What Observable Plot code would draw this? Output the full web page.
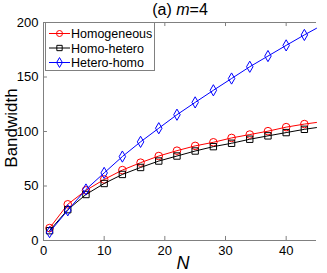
<!DOCTYPE html>
<html><head><meta charset="utf-8">
<script src="https://cdn.jsdelivr.net/npm/d3@7"></script>
<script src="https://cdn.jsdelivr.net/npm/@observablehq/plot@0.6"></script>
<style>body{margin:0;background:#fff;font-family:"Liberation Sans",Arial,sans-serif}</style>
</head><body><div id="chart"></div>
<script>
const N = [1,4,7,10,13,16,19,22,25,28,31,34,37,40,43,45];
const homogeneous = [11.4,33.2,46,56,64.6,71.4,77.5,82.4,86.8,90.1,94.1,97.2,100.3,104,106.8,108.3];
const homoHetero = [9,28.3,42.2,52.3,60.6,67,72.9,77.5,82.1,86.1,89.2,92.9,96,99,102,103.6];
const heteroHomo = [7.7,27.7,46.8,62,77,90.5,103,115.4,126.7,137.8,148.6,159.4,169.2,179,188.6,194.7];
const seriesNames = ["Homogeneous","Homo-hetero","Hetero-homo"];
const seriesColors = ["#ff0000","#000000","#0000ff"];
const seriesSymbols = ["circle","square","diamond"];
const xTicks = [0,10,20,30,40];
const yTicks = [0,50,100,150,200];

const allSeries = [homogeneous, homoHetero, heteroHomo];
const rows = [];
allSeries.forEach((vals, s) => vals.forEach((v, i) => rows.push({series: seriesNames[s], N: N[i], v})));
const markerRows = rows.filter(d => (d.N - 1) % 3 === 0);
const rMap = {circle: 3.8, square: 3.6, diamond: 3.4};

const gray = "#808080";
const marks = [
  Plot.ruleY([0], {stroke: gray}),
  Plot.ruleY([200], {stroke: gray}),
  Plot.ruleX([0], {stroke: gray}),
  Plot.ruleX(xTicks.filter(t => t > 0), {y1: 0, y2: 3.7, stroke: gray}),
  Plot.ruleX(xTicks.filter(t => t > 0), {y1: 200, y2: 196.3, stroke: gray}),
  Plot.ruleY(yTicks.filter(t => t > 0 && t < 200), {x1: 0, x2: 0.65, stroke: gray}),
  Plot.axisX(xTicks, {tickSize: 0, tickPadding: 5, fontSize: 13, label: null}),
  Plot.axisY(yTicks, {tickSize: 0, tickPadding: 5, fontSize: 13, label: null}),
];
seriesNames.forEach((name, s) => {
  marks.push(Plot.line(rows.filter(d => d.series === name), {x: "N", y: "v", stroke: seriesColors[s], strokeWidth: 1}));
  marks.push(Plot.dot(markerRows.filter(d => d.series === name), {x: "N", y: "v", stroke: seriesColors[s], fill: "none", symbol: () => seriesSymbols[s], r: rMap[seriesSymbols[s]], strokeWidth: 1}));
});

const plot = Plot.plot({
  width: 327, height: 273,
  marginLeft: 43, marginRight: 11, marginTop: 22, marginBottom: 33,
  style: {fontFamily: "Liberation Sans, Arial, sans-serif", color: "#000", background: "#fff"},
  x: {domain: [0,45]},
  y: {domain: [0,200]},
  marks
});
document.getElementById("chart").appendChild(plot);

const svg = d3.select(plot);
// title
const t = svg.append("text").attr("x", 180).attr("y", 15).attr("text-anchor", "middle")
  .attr("font-size", 16).attr("fill", "#000");
t.append("tspan").text("(a) ");
t.append("tspan").attr("font-style", "italic").text("m");
t.append("tspan").text("=4");
// y label
svg.append("text").attr("transform", "translate(17,128) rotate(-90)").attr("text-anchor", "middle")
  .attr("font-size", 17).attr("fill", "#000").text("Bandwidth");
// x label
svg.append("text").attr("x", 183).attr("y", 269).attr("text-anchor", "middle")
  .attr("font-size", 18).attr("font-style", "italic").attr("fill", "#000").text("N");
// legend
const lg = svg.append("g").attr("text-anchor", "start");
lg.append("rect").attr("x", 45.5).attr("y", 22.5).attr("width", 109).attr("height", 48)
  .attr("fill", "#fff").attr("stroke", gray);
seriesNames.forEach((name, s) => {
  const y = 33.5 + s * 14.5;
  lg.append("line").attr("x1", 49).attr("x2", 70).attr("y1", y).attr("y2", y)
    .attr("stroke", seriesColors[s]);
  lg.append("path").attr("transform", `translate(59.5,${y})`)
    .attr("d", d3.symbol(s === 0 ? d3.symbolCircle : s === 1 ? d3.symbolSquare : d3.symbolDiamond, Math.PI * 3 * 3)())
    .attr("fill", "none").attr("stroke", seriesColors[s]);
  lg.append("text").attr("x", 71).attr("y", y + 4.5).attr("text-anchor", "start")
    .attr("font-size", 12.5).attr("fill", "#000").text(name);
});
</script></body></html>
